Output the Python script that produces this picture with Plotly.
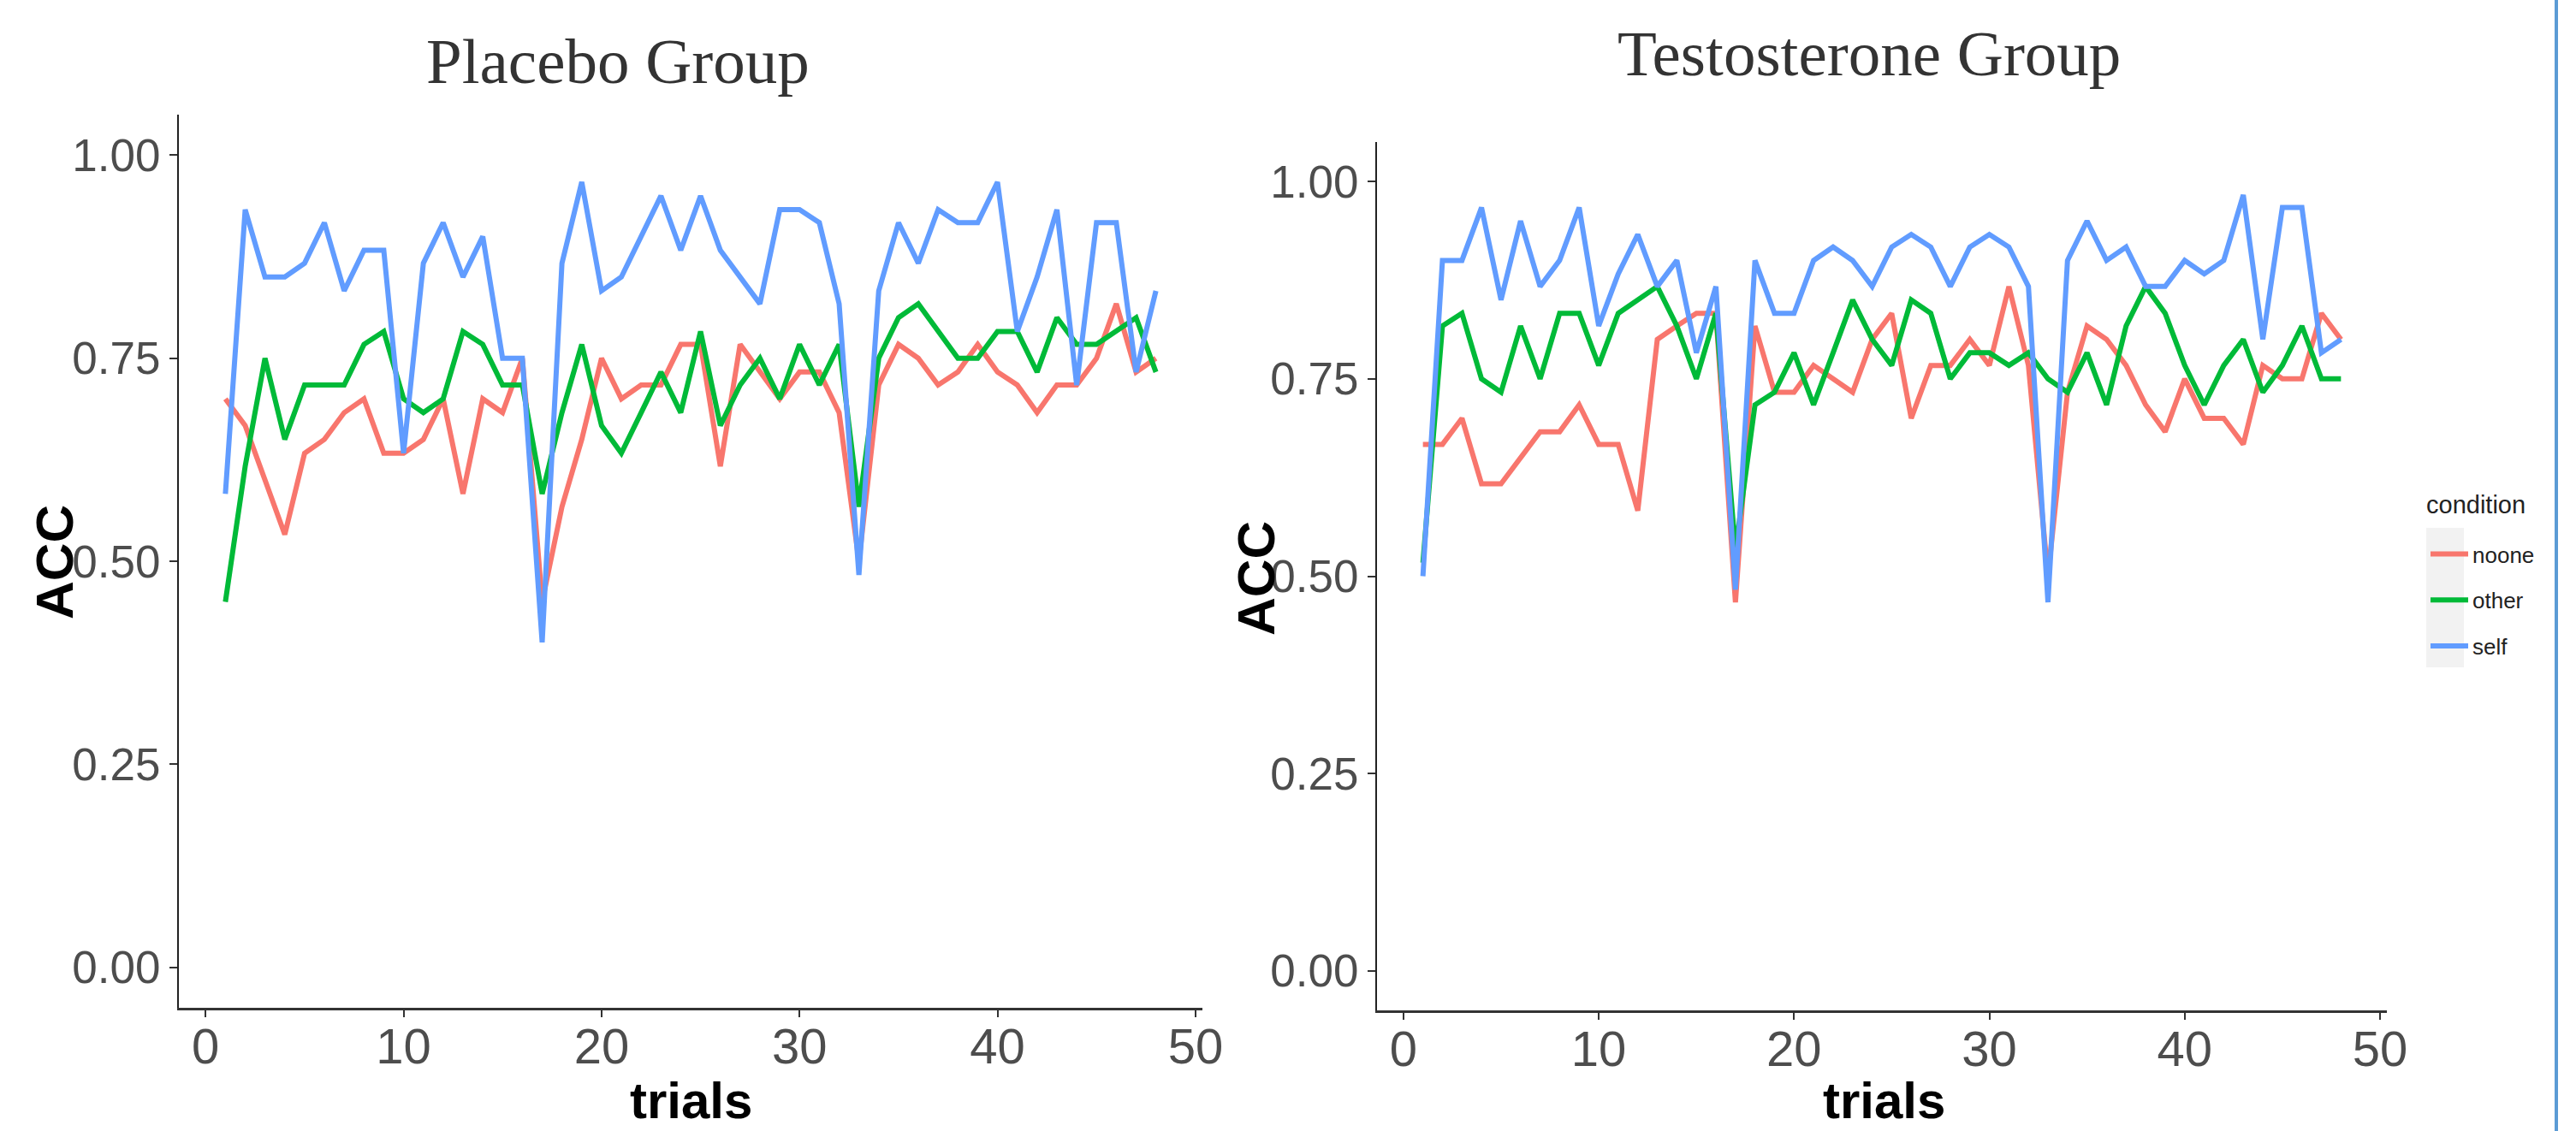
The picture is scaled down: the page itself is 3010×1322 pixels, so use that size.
import plotly.graph_objects as go

trials = list(range(1, 49))
conditions = ["noone", "other", "self"]
colors = {"noone": "#F8766D", "other": "#00BA38", "self": "#619CFF"}
panel_titles = ["Placebo Group", "Testosterone Group"]
y_ticks = [0.0, 0.25, 0.5, 0.75, 1.0]
y_tick_labels = ["0.00", "0.25", "0.50", "0.75", "1.00"]
x_ticks = [0, 10, 20, 30, 40, 50]

placebo_noone = [0.700, 0.667, 0.600, 0.533, 0.633, 0.650, 0.683, 0.700, 0.633, 0.633, 0.650, 0.700,
                 0.583, 0.700, 0.683, 0.750, 0.450, 0.567, 0.650, 0.750, 0.700, 0.717, 0.717, 0.767,
                 0.767, 0.617, 0.767, 0.733, 0.700, 0.733, 0.733, 0.683, 0.500, 0.717, 0.767, 0.750,
                 0.717, 0.733, 0.767, 0.733, 0.717, 0.683, 0.717, 0.717, 0.750, 0.817, 0.733, 0.750]
placebo_other = [0.450, 0.617, 0.750, 0.650, 0.717, 0.717, 0.717, 0.767, 0.783, 0.700, 0.683, 0.700,
                 0.783, 0.767, 0.717, 0.717, 0.583, 0.683, 0.767, 0.667, 0.633, 0.683, 0.733, 0.683,
                 0.783, 0.667, 0.717, 0.750, 0.700, 0.767, 0.717, 0.767, 0.567, 0.750, 0.800, 0.817,
                 0.783, 0.750, 0.750, 0.783, 0.783, 0.733, 0.800, 0.767, 0.767, 0.783, 0.800, 0.733]
placebo_self = [0.583, 0.933, 0.850, 0.850, 0.867, 0.917, 0.833, 0.883, 0.883, 0.633, 0.867, 0.917,
                0.850, 0.900, 0.750, 0.750, 0.400, 0.867, 0.967, 0.833, 0.850, 0.900, 0.950, 0.883,
                0.950, 0.883, 0.850, 0.817, 0.933, 0.933, 0.917, 0.817, 0.483, 0.833, 0.917, 0.867,
                0.933, 0.917, 0.917, 0.967, 0.783, 0.850, 0.933, 0.717, 0.917, 0.917, 0.733, 0.833]

testo_noone = [0.667, 0.667, 0.700, 0.617, 0.617, 0.650, 0.683, 0.683, 0.717, 0.667, 0.667, 0.583,
               0.800, 0.817, 0.833, 0.833, 0.467, 0.817, 0.733, 0.733, 0.767, 0.750, 0.733, 0.800,
               0.833, 0.700, 0.767, 0.767, 0.800, 0.767, 0.867, 0.767, 0.500, 0.733, 0.817, 0.800,
               0.767, 0.717, 0.683, 0.750, 0.700, 0.700, 0.667, 0.767, 0.750, 0.750, 0.833, 0.800]
testo_other = [0.517, 0.817, 0.833, 0.750, 0.733, 0.817, 0.750, 0.833, 0.833, 0.767, 0.833, 0.850,
               0.867, 0.817, 0.750, 0.833, 0.533, 0.717, 0.733, 0.783, 0.717, 0.783, 0.850, 0.800,
               0.767, 0.850, 0.833, 0.750, 0.783, 0.783, 0.767, 0.783, 0.750, 0.733, 0.783, 0.717,
               0.817, 0.867, 0.833, 0.767, 0.717, 0.767, 0.800, 0.733, 0.767, 0.817, 0.750, 0.750]
testo_self = [0.500, 0.900, 0.900, 0.967, 0.850, 0.950, 0.867, 0.900, 0.967, 0.817, 0.883, 0.933,
              0.867, 0.900, 0.783, 0.867, 0.483, 0.900, 0.833, 0.833, 0.900, 0.917, 0.900, 0.867,
              0.917, 0.933, 0.917, 0.867, 0.917, 0.933, 0.917, 0.867, 0.467, 0.900, 0.950, 0.900,
              0.917, 0.867, 0.867, 0.900, 0.883, 0.900, 0.983, 0.800, 0.967, 0.967, 0.783, 0.800]

panels = [
    {"noone": placebo_noone, "other": placebo_other, "self": placebo_self},
    {"noone": testo_noone, "other": testo_other, "self": testo_self},
]

W, H = 3010, 1322


def px(x):
    return x / W


def py(y):
    return 1 - y / H


SANS = "Liberation Sans, Arial, sans-serif"
SERIF = "Liberation Serif, Times New Roman, serif"

fig = go.Figure()
for i, data in enumerate(panels):
    xa = "x" if i == 0 else "x2"
    ya = "y" if i == 0 else "y2"
    for c in conditions:
        fig.add_trace(go.Scatter(
            x=trials, y=data[c], mode="lines", name=c,
            line=dict(color=colors[c], width=6),
            xaxis=xa, yaxis=ya, legendgroup=c, showlegend=(i == 1),
        ))

axis_common_x = dict(
    range=[-1.35, 50.35], tickvals=x_ticks, showgrid=False, zeroline=False,
    showline=True, linecolor="#333333", linewidth=3, ticks="outside", ticklen=8,
    tickwidth=2, tickcolor="#333333", ticklabelstandoff=-16,
    tickfont=dict(family=SANS, size=58, color="#4D4D4D"),
)
axis_common_y = dict(
    range=[-0.05, 1.05], tickvals=y_ticks, ticktext=y_tick_labels, showgrid=False,
    zeroline=False, showline=True, linecolor="#222222", linewidth=2, ticks="outside",
    ticklen=9, tickwidth=2, tickcolor="#333333",
    tickfont=dict(family=SANS, size=53, color="#4D4D4D"),
)

fig.update_layout(
    width=W, height=H, margin=dict(l=0, r=0, t=0, b=0, autoexpand=False),
    paper_bgcolor="white", plot_bgcolor="white",
    xaxis=dict(domain=[px(209), px(1405)], anchor="y", **axis_common_x),
    yaxis=dict(domain=[py(1178), py(134)], anchor="x", **axis_common_y),
    xaxis2=dict(domain=[px(1609), px(2789)], anchor="y2", **axis_common_x),
    yaxis2=dict(domain=[py(1181), py(166)], anchor="x2", **axis_common_y),
    legend=dict(
        x=px(2835), y=py(624), xanchor="left", yanchor="top",
        font=dict(family=SANS, size=26, color="#222222"),
        bgcolor="rgba(0,0,0,0)", tracegroupgap=17, itemwidth=44,
    ),
    showlegend=True,
)

annotations = [
    dict(text=panel_titles[0], x=px(722), y=py(72), xref="paper", yref="paper",
         showarrow=False, xanchor="center", yanchor="middle",
         font=dict(family=SERIF, size=75, color="#333333")),
    dict(text=panel_titles[1], x=px(2184), y=py(62), xref="paper", yref="paper",
         showarrow=False, xanchor="center", yanchor="middle",
         font=dict(family=SERIF, size=75, color="#333333")),
    dict(text="<b>ACC</b>", x=px(63), y=py(657), xref="paper", yref="paper",
         showarrow=False, xanchor="center", yanchor="middle", textangle=-90,
         font=dict(family=SANS, size=62, color="black")),
    dict(text="<b>ACC</b>", x=px(1467), y=py(676), xref="paper", yref="paper",
         showarrow=False, xanchor="center", yanchor="middle", textangle=-90,
         font=dict(family=SANS, size=62, color="black")),
    dict(text="<b>trials</b>", x=px(807), y=0, xref="paper", yref="paper",
         showarrow=False, xanchor="center", yanchor="bottom",
         font=dict(family=SANS, size=60, color="black")),
    dict(text="<b>trials</b>", x=px(2201), y=0, xref="paper", yref="paper",
         showarrow=False, xanchor="center", yanchor="bottom",
         font=dict(family=SANS, size=60, color="black")),
    dict(text="condition", x=px(2833), y=py(590), xref="paper", yref="paper",
         showarrow=False, xanchor="left", yanchor="middle",
         font=dict(family=SANS, size=29, color="#222222")),
]
fig.update_layout(annotations=annotations)

fig.update_layout(shapes=[
    dict(type="rect", xref="paper", yref="paper", x0=px(2835), x1=px(2879),
         y0=py(780), y1=py(617), fillcolor="#F2F2F2", line=dict(width=0), layer="below"),
    dict(type="line", xref="paper", yref="paper", x0=px(2987), x1=px(2987),
         y0=0, y1=1, line=dict(color="#5B9BD5", width=4)),
])

fig.write_html("out.html", config={"displayModeBar": False},
               post_script="document.body.style.margin='0px';")
